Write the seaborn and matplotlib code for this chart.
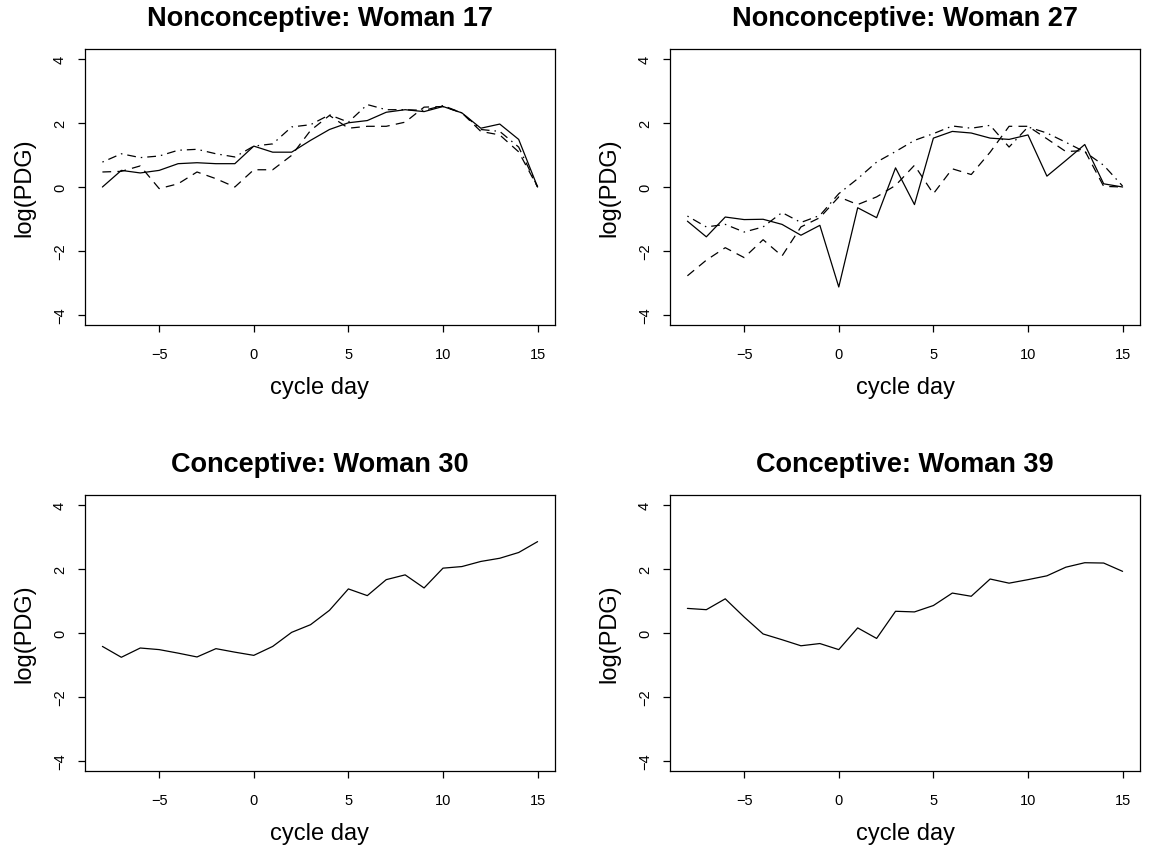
import numpy as np
import pandas as pd
import matplotlib
matplotlib.use("Agg")
import matplotlib.pyplot as plt
import seaborn as sns

# Cycle days relative to the day of ovulation
days = list(range(-8, 16))

# log(PDG) profiles, one list per menstrual cycle
w17_cycle1 = [0.00, 0.52, 0.44, 0.52, 0.73, 0.76, 0.73, 0.73, 1.28, 1.09, 1.09, 1.46,
              1.80, 2.01, 2.08, 2.34, 2.42, 2.36, 2.52, 2.32, 1.84, 1.97, 1.49, 0.00]
w17_cycle2 = [0.47, 0.49, 0.66, -0.05, 0.10, 0.47, 0.26, 0.00, 0.54, 0.54, 0.99, 1.77,
              2.24, 1.84, 1.90, 1.90, 2.03, 2.50, 2.52, 2.32, 1.74, 1.63, 1.10, 0.00]
w17_cycle3 = [0.78, 1.04, 0.92, 0.97, 1.15, 1.18, 1.04, 0.94, 1.28, 1.35, 1.88, 1.95,
              2.26, 2.03, 2.58, 2.42, 2.42, 2.40, 2.55, 2.32, 1.80, 1.74, 1.25, 0.00]

w27_cycle1 = [-1.07, -1.56, -0.94, -1.02, -1.01, -1.17, -1.51, -1.20, -3.13, -0.65, -0.96, 0.60,
              -0.55, 1.53, 1.74, 1.69, 1.53, 1.49, 1.63, 0.34, 0.83, 1.33, 0.10, 0.00]
w27_cycle2 = [-2.78, -2.29, -1.90, -2.21, -1.65, -2.16, -1.25, -0.96, -0.31, -0.55, -0.31, 0.05,
              0.68, -0.21, 0.57, 0.39, 1.09, 1.90, 1.90, 1.51, 1.11, 1.14, 0.02, 0.00]
w27_cycle3 = [-0.91, -1.25, -1.17, -1.41, -1.25, -0.80, -1.11, -0.89, -0.21, 0.26, 0.78, 1.11,
              1.46, 1.67, 1.91, 1.84, 1.93, 1.25, 1.88, 1.69, 1.40, 1.10, 0.68, 0.03]

w30_cycle1 = [-0.42, -0.76, -0.47, -0.52, -0.63, -0.75, -0.49, -0.60, -0.70, -0.42, 0.02, 0.26,
              0.71, 1.38, 1.17, 1.67, 1.82, 1.41, 2.03, 2.08, 2.24, 2.34, 2.52, 2.86]

w39_cycle1 = [0.77, 0.73, 1.07, 0.50, -0.03, -0.21, -0.40, -0.33, -0.52, 0.16, -0.17, 0.68,
              0.66, 0.86, 1.25, 1.15, 1.69, 1.56, 1.67, 1.79, 2.06, 2.20, 2.19, 1.93]

titles = ["Nonconceptive: Woman 17", "Nonconceptive: Woman 27",
          "Conceptive: Woman 30", "Conceptive: Woman 39"]
panels = [
    [w17_cycle1, w17_cycle2, w17_cycle3],
    [w27_cycle1, w27_cycle2, w27_cycle3],
    [w30_cycle1],
    [w39_cycle1],
]
x_ticks = [-5, 0, 5, 10, 15]
y_ticks = [-4, -2, 0, 2, 4]

sns.set_style("ticks")
plt.rcParams["font.family"] = ["Liberation Sans", "DejaVu Sans"]
plt.rcParams["text.color"] = "black"
plt.rcParams["axes.labelcolor"] = "black"
plt.rcParams["xtick.color"] = "black"
plt.rcParams["ytick.color"] = "black"

# solid, dashed, dot-dash (line-width units)
dash_map = {"1": "", "2": (7, 5), "3": (1.2, 4, 7, 4)}

W, H = 1151, 853
fig = plt.figure(figsize=(W / 100, H / 100), dpi=100)
fig.patch.set_facecolor("white")

# axes boxes in pixels: (left, top, width, height)
boxes = [(85, 50, 470, 276), (670, 50, 470, 276),
         (85, 496, 470, 276), (670, 496, 470, 276)]

for box, title, series in zip(boxes, titles, panels):
    l, t, w, h = box
    ax = fig.add_axes([l / W, (H - t - h) / H, w / W, h / H])
    frames = []
    for i, vals in enumerate(series):
        frames.append(pd.DataFrame({"day": days, "logpdg": vals, "cycle": str(i + 1)}))
    df = pd.concat(frames, ignore_index=True)
    levels = [str(i + 1) for i in range(len(series))]
    sns.lineplot(data=df, x="day", y="logpdg", style="cycle", style_order=levels,
                 dashes={k: dash_map[k] for k in levels}, color="black",
                 linewidth=0.9, legend=False, ax=ax, estimator=None, sort=False)
    ax.set_xlim(-8.92, 15.92)
    ax.set_ylim(-4.32, 4.32)
    ax.set_xticks(x_ticks)
    ax.set_yticks(y_ticks)
    ax.set_xticklabels([str(v).replace("-", "\u2212") for v in x_ticks])
    ax.set_yticklabels([str(v).replace("-", "\u2212") for v in y_ticks],
                       rotation=90, va="center")
    ax.tick_params(axis="both", direction="out", length=5, width=0.9,
                   labelsize=10.5, color="black", labelcolor="black")
    ax.tick_params(axis="x", pad=11)
    ax.tick_params(axis="y", pad=8)
    for sp in ax.spines.values():
        sp.set_visible(True)
        sp.set_linewidth(0.9)
        sp.set_color("black")
    ax.set_xlabel("cycle day", fontsize=17, labelpad=11)
    ax.set_ylabel("log(PDG)", fontsize=17, labelpad=13)
    ax.set_title(title, fontsize=19.5, fontweight="bold", pad=17, color="black")
    ax.grid(False)

fig.savefig("out.png", dpi=100, facecolor="white")
